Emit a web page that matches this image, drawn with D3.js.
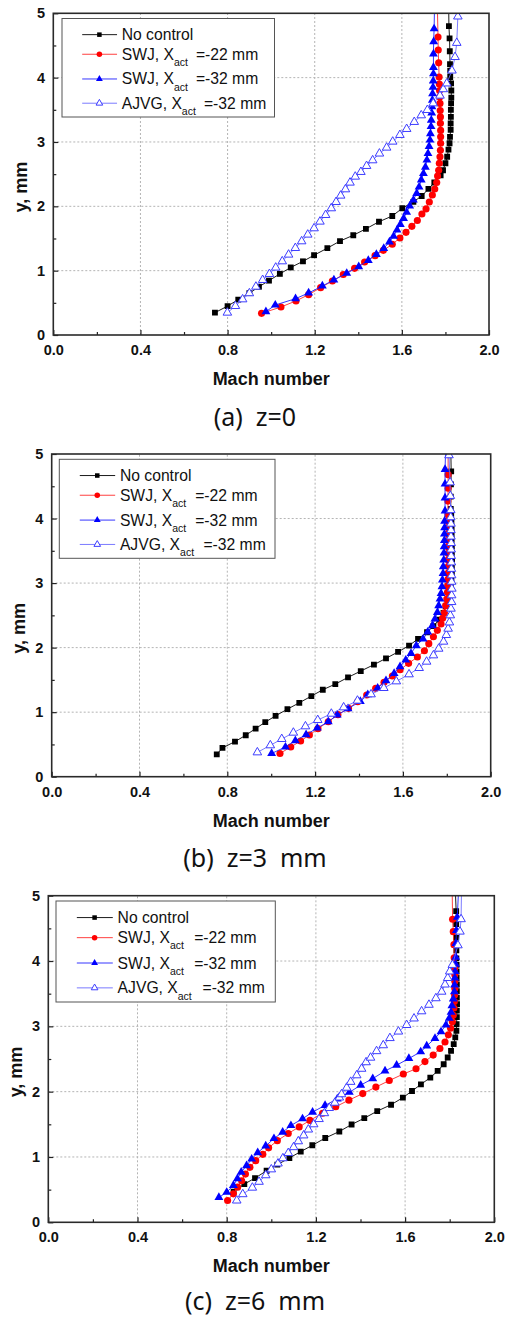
<!DOCTYPE html>
<html>
<head>
<meta charset="utf-8">
<script src="https://cdn.jsdelivr.net/npm/d3@7"></script>
<style>
  body { margin: 0; background: #fff; }
  svg { display: block; }
</style>
</head>
<body>
<svg id="chart" width="506" height="1318"></svg>
<script>
// ---- Mach number profiles, y in mm ----
// (a) z = 0
const yA_noControl = [0.347,0.45,0.55,0.65,0.75,0.845,0.95,1.05,1.145,1.24,1.35,1.46,1.55,1.65,1.76,1.85,1.97,2.07,2.16,2.27,2.37,2.48,2.56,2.67,2.77,2.88,2.98,3.08,3.19,3.29,3.39,3.50,3.60,3.69,3.80,3.91,4.01,4.11,4.21,4.41,4.61,4.80,5.1];
const mA_noControl = [0.742,0.80,0.849,0.90,0.944,0.99,1.04,1.09,1.146,1.197,1.258,1.316,1.377,1.435,1.495,1.556,1.602,1.653,1.691,1.722,1.749,1.778,1.789,1.80,1.808,1.814,1.819,1.821,1.824,1.824,1.825,1.825,1.826,1.827,1.827,1.826,1.822,1.822,1.821,1.82,1.819,1.816,1.815];
const yA_swj22 = [0.337,0.435,0.53,0.627,0.736,0.84,0.94,1.036,1.135,1.233,1.316,1.41,1.508,1.596,1.689,1.78,1.88,1.96,2.067,2.176,2.27,2.37,2.47,2.56,2.67,2.77,2.87,2.98,3.08,3.18,3.29,3.39,3.49,3.60,3.70,3.80,3.90,4.01,4.23,4.43,4.63,5.1];
const mA_swj22 = [0.956,1.045,1.114,1.172,1.227,1.281,1.331,1.383,1.429,1.477,1.515,1.556,1.591,1.619,1.646,1.671,1.692,1.711,1.726,1.74,1.751,1.76,1.764,1.769,1.772,1.775,1.777,1.778,1.778,1.778,1.777,1.777,1.776,1.775,1.774,1.773,1.772,1.771,1.769,1.767,1.766,1.763];
const yA_swj32 = [0.363,0.466,0.565,0.653,0.762,0.855,0.959,1.062,1.16,1.254,1.347,1.446,1.534,1.632,1.72,1.813,1.907,2.005,2.098,2.202,2.30,2.41,2.51,2.61,2.72,2.82,2.93,3.03,3.13,3.24,3.34,3.45,3.55,3.65,3.75,3.85,3.95,4.06,4.16,4.37,4.56,4.76,5.1];
const mA_swj32 = [0.976,1.019,1.112,1.172,1.235,1.288,1.347,1.402,1.446,1.483,1.517,1.543,1.562,1.578,1.593,1.608,1.622,1.636,1.653,1.668,1.679,1.689,1.699,1.708,1.715,1.72,1.725,1.729,1.731,1.734,1.735,1.737,1.738,1.74,1.741,1.743,1.744,1.745,1.745,1.745,1.746,1.748,1.75];
const yA_ajvg = [0.347,0.45,0.554,0.648,0.751,0.855,0.948,1.047,1.145,1.249,1.352,1.456,1.56,1.658,1.762,1.865,1.969,2.067,2.166,2.264,2.368,2.461,2.534,2.627,2.715,2.82,2.912,3.005,3.109,3.202,3.311,3.414,3.497,3.60,3.72,3.82,3.91,4.11,4.32,4.54,4.95];
const mA_ajvg = [0.799,0.836,0.869,0.90,0.93,0.961,0.992,1.021,1.051,1.08,1.111,1.14,1.168,1.197,1.224,1.25,1.276,1.298,1.319,1.341,1.362,1.386,1.412,1.438,1.466,1.497,1.53,1.558,1.591,1.622,1.657,1.689,1.717,1.744,1.775,1.79,1.806,1.83,1.844,1.852,1.857];

// (b) z = 3 mm
const yB_noControl = [0.347,0.446,0.544,0.642,0.746,0.845,0.943,1.047,1.145,1.249,1.347,1.435,1.539,1.637,1.736,1.834,1.933,2.031,2.135,2.238,2.332,2.435,2.539,2.642,2.746,2.85,2.953,3.057,3.16,3.264,3.368,3.47,3.57,3.67,3.75,3.84,3.95,4.05,4.15,4.34,4.53,4.73,5.1];
const mB_noControl = [0.752,0.778,0.835,0.884,0.929,0.973,1.02,1.074,1.128,1.183,1.235,1.292,1.35,1.408,1.468,1.523,1.578,1.628,1.669,1.71,1.739,1.766,1.785,1.795,1.804,1.812,1.818,1.821,1.823,1.823,1.824,1.823,1.823,1.822,1.822,1.822,1.821,1.82,1.818,1.818,1.819,1.82,1.818];
const yB_swj22 = [0.36,0.46,0.553,0.646,0.744,0.852,0.961,1.059,1.162,1.266,1.369,1.462,1.56,1.658,1.756,1.854,1.952,2.061,2.169,2.268,2.366,2.454,2.541,2.65,2.753,2.857,2.96,3.063,3.16,3.26,3.36,3.46,3.56,3.66,3.76,3.86,3.96,4.06,4.27,4.47,4.68,5.1];
const mB_swj22 = [1.04,1.089,1.134,1.174,1.213,1.26,1.304,1.352,1.394,1.435,1.476,1.514,1.552,1.587,1.626,1.666,1.698,1.718,1.739,1.757,1.774,1.781,1.789,1.795,1.80,1.803,1.804,1.806,1.807,1.807,1.806,1.807,1.806,1.805,1.806,1.805,1.805,1.806,1.805,1.806,1.806,1.806];
const yB_swj32 = [0.36,0.46,0.558,0.651,0.754,0.852,0.956,1.054,1.167,1.27,1.374,1.488,1.601,1.705,1.808,1.911,2.03,2.133,2.242,2.34,2.443,2.546,2.65,2.753,2.841,2.944,3.048,3.15,3.254,3.357,3.466,3.564,3.66,3.76,3.86,3.96,4.117,4.32,4.535,4.76,5.1];
const mB_swj32 = [1.002,1.065,1.11,1.159,1.21,1.26,1.301,1.35,1.406,1.44,1.485,1.523,1.56,1.587,1.613,1.637,1.661,1.692,1.713,1.734,1.746,1.757,1.763,1.769,1.774,1.778,1.78,1.783,1.784,1.786,1.787,1.788,1.789,1.789,1.79,1.79,1.792,1.792,1.792,1.792,1.795];
const yB_ajvg = [0.377,0.486,0.584,0.682,0.78,0.878,0.976,1.074,1.178,1.276,1.374,1.477,1.586,1.684,1.782,1.88,1.983,2.092,2.195,2.293,2.39,2.5,2.603,2.706,2.81,2.913,3.02,3.12,3.22,3.32,3.42,3.52,3.62,3.72,3.82,3.92,4.02,4.13,4.35,4.56,4.98];
const mB_ajvg = [0.937,0.996,1.048,1.101,1.156,1.212,1.274,1.33,1.393,1.455,1.513,1.57,1.628,1.674,1.708,1.739,1.763,1.785,1.798,1.806,1.812,1.816,1.819,1.822,1.822,1.823,1.822,1.822,1.821,1.821,1.82,1.82,1.82,1.819,1.819,1.819,1.818,1.818,1.816,1.815,1.81];

// (c) z = 6 mm
const yC_noControl = [0.47,0.585,0.677,0.789,0.882,0.985,1.082,1.179,1.29,1.39,1.497,1.594,1.702,1.80,1.908,2.01,2.112,2.215,2.317,2.42,2.523,2.625,2.728,2.83,2.933,3.035,3.14,3.24,3.34,3.44,3.54,3.64,3.74,3.84,3.94,4.04,4.164,4.354,4.564,4.764,5.1];
const mC_noControl = [0.831,0.879,0.927,0.979,1.027,1.081,1.132,1.184,1.242,1.305,1.36,1.417,1.475,1.537,1.59,1.631,1.671,1.713,1.746,1.773,1.791,1.806,1.818,1.825,1.83,1.831,1.832,1.832,1.833,1.832,1.832,1.832,1.831,1.831,1.831,1.83,1.83,1.829,1.829,1.829,1.825];
const yC_swj22 = [0.333,0.436,0.538,0.636,0.738,0.841,0.944,1.04,1.14,1.25,1.36,1.46,1.56,1.67,1.77,1.87,1.97,2.07,2.17,2.27,2.35,2.46,2.56,2.66,2.76,2.87,2.97,3.07,3.17,3.28,3.38,3.48,3.58,3.69,3.79,3.89,4.05,4.25,4.45,4.64,5.1];
const mC_swj22 = [0.804,0.83,0.849,0.867,0.884,0.904,0.93,0.962,0.988,1.027,1.076,1.125,1.173,1.23,1.289,1.348,1.41,1.469,1.529,1.592,1.649,1.689,1.726,1.756,1.779,1.794,1.804,1.812,1.816,1.819,1.821,1.822,1.823,1.823,1.823,1.822,1.82,1.819,1.816,1.813,1.811];
const yC_swj32 = [0.38,0.46,0.564,0.667,0.769,0.867,0.969,1.067,1.169,1.282,1.379,1.482,1.585,1.687,1.79,1.89,1.99,2.10,2.20,2.317,2.405,2.508,2.61,2.70,2.815,2.917,3.02,3.123,3.215,3.317,3.42,3.53,3.635,3.74,3.84,3.95,4.06,4.27,4.47,4.67,5.1];
const mC_swj32 = [0.765,0.80,0.83,0.848,0.865,0.889,0.912,0.939,0.975,1.012,1.051,1.088,1.14,1.185,1.241,1.296,1.35,1.401,1.455,1.51,1.562,1.617,1.67,1.697,1.734,1.761,1.783,1.798,1.806,1.81,1.816,1.821,1.822,1.823,1.824,1.826,1.827,1.828,1.83,1.834,1.84];
const yC_ajvg = [0.333,0.43,0.53,0.62,0.72,0.81,0.90,0.98,1.06,1.15,1.24,1.33,1.42,1.50,1.58,1.67,1.75,1.83,1.91,1.96,2.06,2.15,2.25,2.35,2.45,2.52,2.62,2.71,2.82,2.92,3.02,3.12,3.23,3.33,3.43,3.53,3.64,3.74,3.84,3.94,4.24,4.45,4.64,5.1];
const mC_ajvg = [0.845,0.872,0.915,0.945,0.975,1.0,1.03,1.052,1.076,1.10,1.121,1.145,1.166,1.19,1.214,1.238,1.26,1.285,1.305,1.315,1.338,1.356,1.383,1.405,1.425,1.445,1.472,1.502,1.532,1.57,1.607,1.64,1.674,1.707,1.738,1.764,1.779,1.791,1.80,1.812,1.837,1.846,1.851,1.853];

// ---- axes and labels ----
const xTicks = [0.0, 0.4, 0.8, 1.2, 1.6, 2.0];
const xMinorTicks = [0.2, 0.6, 1.0, 1.4, 1.8];
const yTicks = [0, 1, 2, 3, 4, 5];
const yMinorTicks = [0.5, 1.5, 2.5, 3.5, 4.5];
const xTitle = "Mach number";
const yTitle = "y, mm";
const captions = ["(a)  z=0", "(b)  z=3  mm", "(c)  z=6  mm"];
const legendMain = ["No control", "SWJ, X", "SWJ, X", "AJVG, X"];
const legendSub = ["", "act", "act", "act"];
const legendTail = ["", "=-22 mm", "=-32 mm", "=-32 mm"];

const panelSeries = [
  [[mA_noControl, yA_noControl], [mA_swj22, yA_swj22], [mA_swj32, yA_swj32], [mA_ajvg, yA_ajvg]],
  [[mB_noControl, yB_noControl], [mB_swj22, yB_swj22], [mB_swj32, yB_swj32], [mB_ajvg, yB_ajvg]],
  [[mC_noControl, yC_noControl], [mC_swj22, yC_swj22], [mC_swj32, yC_swj32], [mC_ajvg, yC_ajvg]]
];

// ---- layout: plot frame [left, top, right, bottom], legend box and caption baseline per panel ----
const frames = [
  { plot: [53.3, 13.3, 489, 335],       legend: [62, 18.5, 274.5, 117],   captionY: 425.5 },
  { plot: [51.7, 454, 490.7, 776.7],    legend: [59.3, 459.3, 275, 558.3], captionY: 866.5 },
  { plot: [48.3, 895.7, 494.3, 1222.3], legend: [56, 901, 275.3, 1002],    captionY: 1310 }
];

const styles = [
  { line: "#000000", lw: 0.9, sym: d3.symbolSquare,   size: 34, fill: "#000000", stroke: "none", sw: 0 },
  { line: "#ff2a2a", lw: 0.9, sym: d3.symbolCircle,   size: 40, fill: "#ff0000", stroke: "none", sw: 0 },
  { line: "#1f1fff", lw: 0.9, sym: d3.symbolTriangle, size: 34, fill: "#0000ff", stroke: "none", sw: 0 },
  { line: "#6b6bff", lw: 0.9, sym: d3.symbolTriangle, size: 32, fill: "#ffffff", stroke: "#3d3dff", sw: 1 }
];

const tickFont = "'Liberation Sans', Arial, sans-serif";
const svg = d3.select("#chart");
svg.append("rect").attr("width", 506).attr("height", 1318).attr("fill", "#fff");

frames.forEach((fr, p) => {
  const [L, T, R, B] = fr.plot;
  const x = d3.scaleLinear().domain([0, 2]).range([L, R]);
  const y = d3.scaleLinear().domain([0, 5]).range([B, T]);
  const g = svg.append("g");

  // dotted grid at the major ticks
  const grid = g.append("g").attr("stroke", "#b4b4b4").attr("stroke-width", 1)
    .attr("stroke-dasharray", "2,2").attr("fill", "none");
  grid.selectAll("line.gx").data(xTicks.slice(1, -1)).join("line")
    .attr("x1", d => x(d)).attr("x2", d => x(d)).attr("y1", B).attr("y2", T);
  grid.selectAll("line.gy").data(yTicks.slice(1, -1)).join("line")
    .attr("x1", L).attr("x2", R).attr("y1", d => y(d)).attr("y2", d => y(d));

  // clip data to the frame
  const clipId = "clip" + p;
  svg.append("clipPath").attr("id", clipId).append("rect")
    .attr("x", L).attr("y", T).attr("width", R - L).attr("height", B - T);
  const data = g.append("g").attr("clip-path", `url(#${clipId})`);

  panelSeries[p].forEach((s, k) => {
    const st = styles[k];
    const pts = s[0].map((m, i) => [m, s[1][i]]);
    data.append("path").datum(pts)
      .attr("fill", "none").attr("stroke", st.line).attr("stroke-width", st.lw)
      .attr("d", d3.line().x(d => x(d[0])).y(d => y(d[1])));
    data.append("g").selectAll("path").data(pts).join("path")
      .attr("transform", d => `translate(${x(d[0])},${y(d[1])})`)
      .attr("d", d3.symbol().type(st.sym).size(st.size))
      .attr("fill", st.fill).attr("stroke", st.stroke).attr("stroke-width", st.sw);
  });

  // axes with inward ticks
  const styleAxis = sel => {
    sel.select(".domain").remove();
    sel.selectAll(".tick line").attr("stroke", "#222").attr("stroke-width", 1.2);
    sel.selectAll("text").attr("fill", "#111").attr("font-family", tickFont)
      .attr("font-weight", "bold").attr("font-size", 14.5);
  };
  g.append("g").attr("transform", `translate(0,${B})`)
    .call(d3.axisBottom(x).tickValues(xTicks).tickFormat(d3.format(".1f")).tickSize(-5).tickPadding(9.7))
    .call(styleAxis);
  g.append("g").attr("transform", `translate(0,${B})`)
    .call(d3.axisBottom(x).tickValues(xMinorTicks).tickFormat("").tickSize(-3))
    .call(styleAxis);
  g.append("g").attr("transform", `translate(${L},0)`)
    .call(d3.axisLeft(y).tickValues(yTicks).tickFormat(d3.format("d")).tickSize(-5).tickPadding(8.3))
    .call(styleAxis);
  g.append("g").attr("transform", `translate(${L},0)`)
    .call(d3.axisLeft(y).tickValues(yMinorTicks).tickFormat("").tickSize(-3))
    .call(styleAxis);

  // frame
  g.append("rect").attr("x", L).attr("y", T).attr("width", R - L).attr("height", B - T)
    .attr("fill", "none").attr("stroke", "#2a2a2a").attr("stroke-width", 1.6);

  // axis titles
  g.append("text").attr("x", (L + R) / 2).attr("y", B + 50)
    .attr("text-anchor", "middle").attr("font-family", tickFont).attr("font-weight", "bold")
    .attr("font-size", 18).attr("fill", "#111").text(xTitle);
  g.append("text")
    .attr("transform", `translate(${L - 26.6},${(T + B) / 2 + 13}) rotate(-90)`)
    .attr("text-anchor", "middle").attr("font-family", tickFont).attr("font-weight", "bold")
    .attr("font-size", 18).attr("fill", "#111").text(yTitle);

  // legend
  const [lx0, ly0, lx1, ly1] = fr.legend;
  const lw = lx1 - lx0, lh = ly1 - ly0;
  const rowFrac = [0.164, 0.363, 0.614, 0.86];
  const leg = g.append("g");
  leg.append("rect").attr("x", lx0).attr("y", ly0).attr("width", lw).attr("height", lh)
    .attr("fill", "#fff").attr("stroke", "#555").attr("stroke-width", 1);
  styles.forEach((st, k) => {
    const ry = ly0 + rowFrac[k] * lh;
    leg.append("line").attr("x1", lx0 + 0.095 * lw).attr("x2", lx0 + 0.259 * lw)
      .attr("y1", ry).attr("y2", ry).attr("stroke", st.line).attr("stroke-width", st.lw);
    leg.append("path").attr("transform", `translate(${lx0 + 0.176 * lw},${ry})`)
      .attr("d", d3.symbol().type(st.sym).size(st.size * 0.6))
      .attr("fill", st.fill).attr("stroke", st.stroke).attr("stroke-width", st.sw);
    const t = leg.append("text").attr("x", lx0 + 0.281 * lw).attr("y", ry + 5.5)
      .attr("font-family", tickFont).attr("font-size", 15.7).attr("fill", "#111");
    t.append("tspan").text(legendMain[k]);
    if (legendSub[k]) {
      t.append("tspan").attr("font-size", 10.5).attr("dy", 6.2).text(legendSub[k]);
      t.append("tspan").attr("x", lx0 + (k === 3 ? 0.668 : 0.630) * lw).attr("dy", -6.2)
        .text(legendTail[k]);
    }
  });

  // caption
  svg.append("text").attr("x", 255).attr("y", fr.captionY)
    .attr("text-anchor", "middle").attr("font-family", "'Noto Sans', sans-serif")
    .attr("font-size", 25).attr("fill", "#111").style("white-space", "pre")
    .text(captions[p]);
});
</script>
</body>
</html>
